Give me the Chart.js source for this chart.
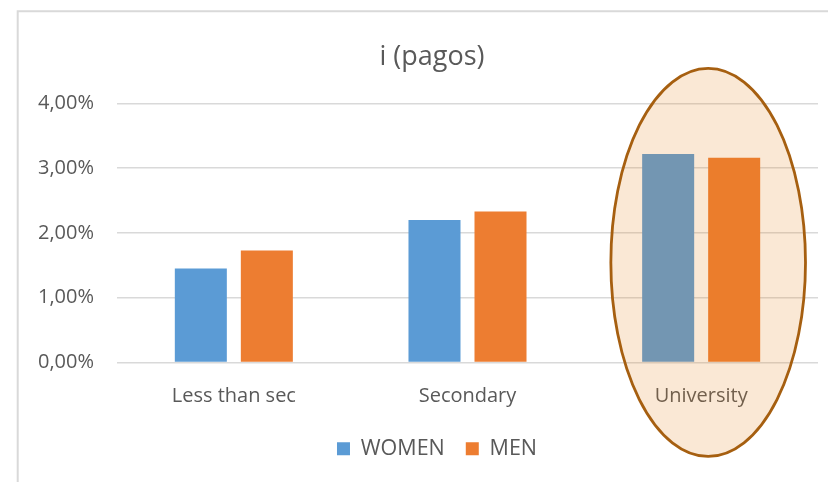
<!DOCTYPE html>
<html>
<head>
<meta charset="utf-8">
<script src="https://cdn.jsdelivr.net/npm/chart.js@4/dist/chart.umd.min.js"></script>
<style>
  html, body { margin: 0; padding: 0; background: #fff; }
  #wrap { width: 828px; height: 482px; position: relative; }
</style>
</head>
<body>
<div id="wrap"><canvas id="c" width="828" height="482"></canvas></div>
<script>
// ---- data ----
const categories = ['Less than sec', 'Secondary', 'University'];
const womenValues = [1.45, 2.20, 3.22];
const menValues = [1.73, 2.33, 3.16];
const seriesNames = ['WOMEN', 'MEN'];
const yTicks = [0, 1, 2, 3, 4];
const titleText = 'i (pagos)';

// highlight ellipse around one category (geometry in category / value units)
const highlight = { category: 'University', dx: 0.03, halfWidth: 0.4165, yTop: 4.54, yBottom: -1.45 };

const FONT = "'Open Sans', 'DejaVu Sans', sans-serif";
const TEXT = '#595959';

const framePlugin = {
  id: 'frame',
  beforeDraw(chart) {
    const ctx = chart.ctx;
    ctx.save();
    ctx.fillStyle = '#ffffff';
    ctx.fillRect(0, 0, chart.width, chart.height);
    ctx.strokeStyle = '#D9D9D9';
    ctx.lineWidth = 2;
    ctx.beginPath();
    ctx.moveTo(17.7, chart.height);
    ctx.lineTo(17.7, 11.2);
    ctx.lineTo(chart.width, 11.2);
    ctx.stroke();
    ctx.restore();
  }
};

// the original chart frame is wider than the visible crop: centre title/legend on it
const centerPlugin = {
  id: 'centerBlocks',
  afterLayout(chart) {
    if (chart.titleBlock) chart.titleBlock.left += 46;
    if (chart.legend) chart.legend.left += 56;
  }
};

const ellipsePlugin = {
  id: 'ellipse',
  afterDatasetsDraw(chart) {
    const xs = chart.scales.x, ys = chart.scales.y;
    const idx = categories.indexOf(highlight.category);
    const catW = xs.getPixelForValue(1) - xs.getPixelForValue(0);
    const cx = xs.getPixelForValue(idx) + highlight.dx * catW;
    const top = ys.getPixelForValue(highlight.yTop);
    const bottom = ys.getPixelForValue(highlight.yBottom);
    const cy = (top + bottom) / 2;
    const ry = (bottom - top) / 2;
    const rx = highlight.halfWidth * catW;
    const ctx = chart.ctx;
    ctx.save();
    ctx.beginPath();
    ctx.ellipse(cx, cy, rx, ry, 0, 0, Math.PI * 2);
    ctx.fillStyle = 'rgba(227,127,22,0.18)';
    ctx.fill();
    ctx.lineWidth = 2.8;
    ctx.strokeStyle = '#A65F10';
    ctx.stroke();
    ctx.restore();
  }
};

new Chart(document.getElementById('c'), {
  type: 'bar',
  data: {
    labels: categories,
    datasets: [
      { label: seriesNames[0], data: womenValues, backgroundColor: '#5B9BD5', categoryPercentage: 0.565, barPercentage: 0.788 },
      { label: seriesNames[1], data: menValues, backgroundColor: '#ED7D31', categoryPercentage: 0.565, barPercentage: 0.788 }
    ]
  },
  options: {
    responsive: false,
    animation: false,
    devicePixelRatio: 1,
    layout: { padding: { left: 0, right: 10, top: 0, bottom: 12.5 } },
    plugins: {
      title: {
        display: true,
        text: titleText,
        color: TEXT,
        font: { family: FONT, size: 27, weight: 'normal' },
        padding: { top: 41, bottom: 30 }
      },
      legend: {
        display: true,
        position: 'bottom',
        labels: {
          color: TEXT,
          font: { family: FONT, size: 21.5 },
          boxWidth: 13,
          boxHeight: 13,
          padding: 21
        }
      },
      tooltip: { enabled: false }
    },
    scales: {
      x: {
        grid: { display: false },
        border: { display: false },
        ticks: { color: TEXT, font: { family: FONT, size: 20 }, padding: 14, maxRotation: 0 },
        afterFit(scale) { scale.height = 54.5; }
      },
      y: {
        min: yTicks[0],
        max: yTicks[yTicks.length - 1],
        afterBuildTicks(scale) { scale.ticks = yTicks.map(v => ({ value: v })); },
        grid: { color: '#D9D9D9', lineWidth: 1.6, drawTicks: false },
        border: { display: false },
        ticks: {
          color: TEXT,
          font: { family: FONT, size: 20 },
          padding: 23,
          callback: v => v.toFixed(2).replace('.', ',') + '%'
        },
        afterFit(scale) { scale.width = 117; }
      }
    }
  },
  plugins: [framePlugin, centerPlugin, ellipsePlugin]
});
</script>
</body>
</html>
